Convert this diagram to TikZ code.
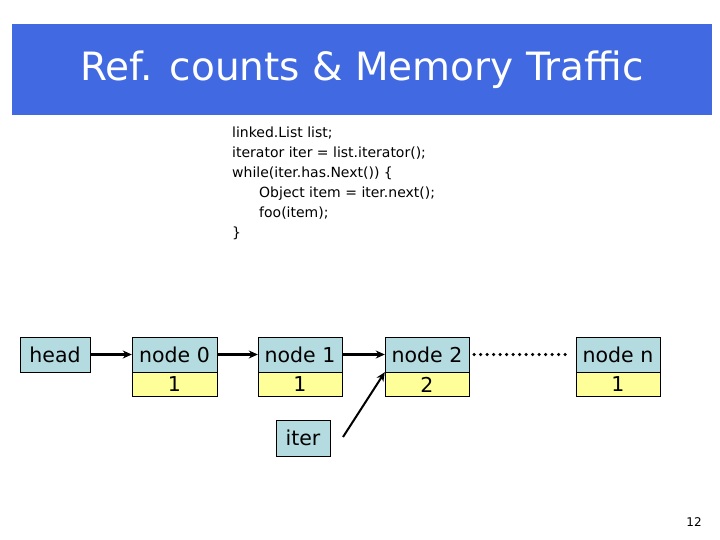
\documentclass[tikz,border=0pt]{standalone}
\usepackage{fontspec}
\setmainfont{DejaVu Sans}
\usepackage{xcolor}
\usetikzlibrary{arrows.meta}
\definecolor{titleblue}{HTML}{4169E1}
\definecolor{cellblue}{HTML}{B4DCE0}
\definecolor{cellyellow}{HTML}{FFFF99}
\tikzset{
  ptr/.style={draw=black,fill=cellblue,minimum height=35pt,inner sep=0pt,font=\fontsize{20.5}{20.5}\selectfont},
  cnt/.style={draw=black,fill=cellyellow,minimum height=24pt,inner sep=0pt,font=\fontsize{20.5}{20.5}\selectfont},
  link/.style={line width=3pt,-{Stealth[length=9pt,width=8pt]}}
}
\begin{document}
\begin{tikzpicture}
        [x=1pt,y=-1pt]
        \useasboundingbox (0,0) rectangle (720,540);
        \fill[titleblue] (12,24) rectangle (712,115);
        \node[text=white,font=\fontsize{39}{39}\selectfont] (title) at (362,70) {Ref. counts \& Memory Traffic};

        \node[anchor=north west,align=left,inner sep=0pt,font=\fontsize{14}{20}\selectfont] (code) at (232,127)
        {linked.List list;\\
         iterator iter = list.iterator();\\
         while(iter.has.Next()) \{\\
         \hspace*{27pt}Object item = iter.next();\\
         \hspace*{27pt}foo(item);\\
         \}};

        \node[ptr,minimum width=70pt] (head) at (55,354.5) {head};
        \node[ptr,minimum width=85pt] (n0) at (174.5,354.5) {node 0};
        \node[cnt,minimum width=85pt,anchor=north] (c0) at (n0.south) {1};
        \node[ptr,minimum width=84pt] (n1) at (300,354.5) {node 1};
        \node[cnt,minimum width=84pt,anchor=north] (c1) at (n1.south) {1};
        \node[ptr,minimum width=84pt] (n2) at (427,354.5) {node 2};
        \node[cnt,minimum width=84pt,anchor=north] (c2) at (n2.south) {2};
        \node[ptr,minimum width=84pt] (nn) at (618,354.5) {node n};
        \node[cnt,minimum width=84pt,anchor=north] (cn) at (nn.south) {1};
        \node[ptr,minimum width=54pt,minimum height=36pt] (iter) at (303,438) {iter};

        \draw[link] (head) -- (n0);
        \draw[link] (n0) -- (n1);
        \draw[link] (n1) -- (n2);
        \coordinate (itertail) at (343,437);
        \draw[line width=2pt,-{Stealth[length=9pt,width=8pt]}] (itertail) -- (n2.south west);
        \draw[line width=3.5pt,dash pattern=on 0pt off 6.5pt,line cap=round] ([xshift=5pt]n2.east) -- ([xshift=-6pt]nn.west);

        \node[font=\fontsize{12}{12}\selectfont] (page) at (694,522) {12};
\end{tikzpicture}
\end{document}
